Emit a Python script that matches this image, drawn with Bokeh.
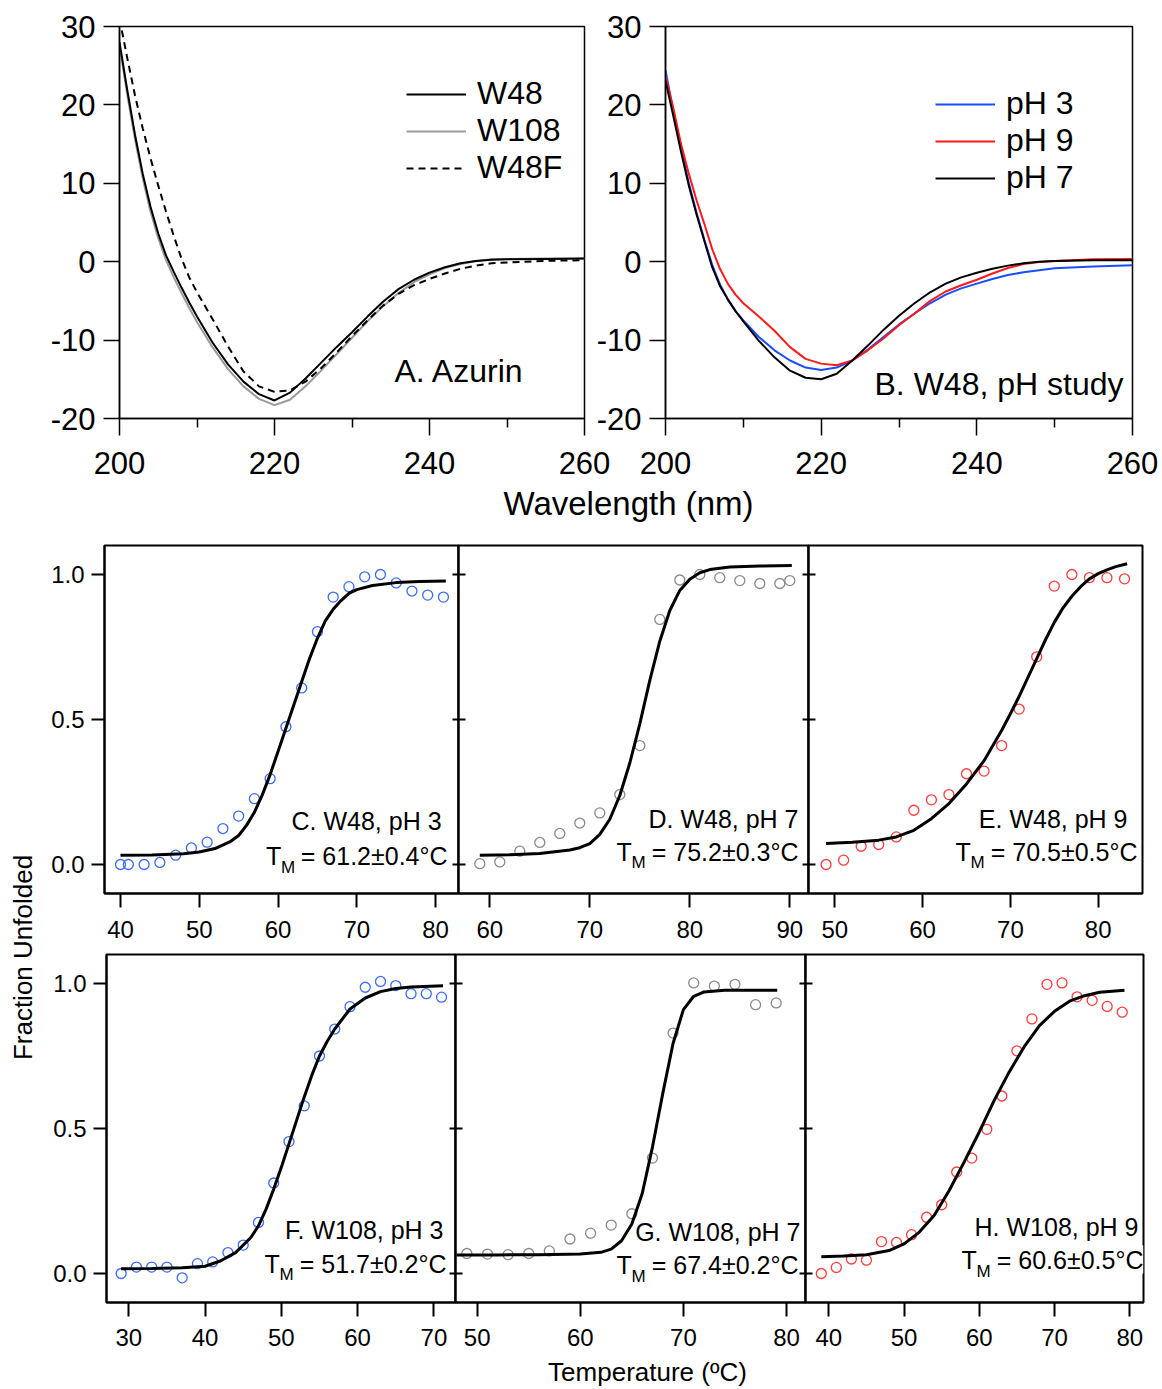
import math
from bokeh.plotting import figure
from bokeh.layouts import row, column
from bokeh.models import (FixedTicker, PrintfTickFormatter, CustomJSTickFormatter,
                          Label, Legend, LegendItem, Range1d)
from bokeh.embed import file_html
from bokeh.resources import INLINE

FONT = "Liberation Sans"

# ---------------- Panels A / B : CD spectra (mdeg) ----------------
wavelength = [200, 201, 202, 203, 204, 205, 206, 207, 208, 209, 210,
              212, 214, 216, 218, 220, 222, 224, 226, 228, 230,
              232, 234, 236, 238, 240, 242, 244, 246, 248, 250, 255, 260]

cd_W48 = [28.0, 21.9, 16.2, 11.2, 7.0, 3.6, 0.8, -1.3, -3.3, -5.2, -7.0,
          -10.3, -13.1, -15.3, -16.9, -17.7, -16.7, -14.9, -12.9, -10.9, -9.0,
          -7.0, -5.1, -3.5, -2.3, -1.4, -0.7, -0.2, 0.1, 0.25, 0.3, 0.35, 0.4]
cd_W108 = [27.6, 21.3, 15.6, 10.6, 6.4, 3.0, 0.2, -2.0, -4.0, -5.9, -7.7,
           -10.9, -13.7, -15.9, -17.5, -18.3, -17.6, -15.9, -13.9, -11.8, -9.7,
           -7.6, -5.7, -4.0, -2.6, -1.6, -0.8, -0.3, 0.1, 0.3, 0.35, 0.4, 0.4]
cd_W48F = [31.0, 26.0, 21.2, 17.0, 13.2, 9.7, 6.4, 3.3, 0.4, -2.0, -3.9,
           -7.3, -10.8, -14.0, -15.9, -16.6, -16.4, -15.3, -13.6, -11.6, -9.5,
           -7.5, -5.6, -4.1, -3.0, -2.2, -1.5, -0.9, -0.5, -0.2, -0.1, 0.1, 0.2]

cd_pH3 = [24.4, 19.3, 14.5, 10.0, 6.2, 2.8, -0.4, -2.9, -4.8, -6.3, -7.5,
          -9.6, -11.3, -12.6, -13.5, -13.8, -13.5, -12.6, -11.2, -9.6, -8.0,
          -6.6, -5.3, -4.2, -3.4, -2.8, -2.2, -1.7, -1.35, -1.1, -0.85, -0.6, -0.45]
cd_pH9 = [23.7, 19.6, 15.0, 11.2, 7.8, 4.8, 1.6, -0.9, -2.8, -4.2, -5.3,
          -7.0, -8.8, -10.9, -12.4, -13.0, -13.2, -12.6, -11.3, -9.8, -8.1,
          -6.6, -5.0, -3.8, -3.0, -2.3, -1.5, -0.8, -0.3, -0.05, 0.1, 0.3, 0.35]
cd_pH7 = [23.1, 18.6, 14.0, 9.7, 6.0, 2.6, -0.7, -3.1, -4.8, -6.3, -7.6,
          -10.1, -12.2, -13.9, -14.8, -15.0, -14.3, -12.6, -10.7, -8.7, -6.9,
          -5.3, -3.9, -2.8, -2.0, -1.4, -0.9, -0.5, -0.2, 0.0, 0.1, 0.2, 0.2]

# ---------------- Panels C-H : thermal unfolding ----------------
C_T = [40, 41, 43, 45, 47, 49, 51, 53, 55, 57, 59, 61, 63, 65, 67, 69, 71, 73, 75, 77, 79, 81]
C_f = [0.0, 0.0, 0.0, 0.007, 0.032, 0.057, 0.077, 0.124, 0.167, 0.227, 0.296, 0.475,
       0.609, 0.803, 0.922, 0.958, 0.992, 1.0, 0.971, 0.943, 0.929, 0.922]
C_fit_T = [40, 44, 48, 50, 52, 54, 55, 56, 57, 58, 59, 60, 61, 62, 63, 64, 65, 66, 67, 68,
           69, 70, 72, 75, 78, 81.3]
C_fit = [0.032, 0.033, 0.037, 0.043, 0.055, 0.08, 0.10, 0.135, 0.18, 0.24, 0.31, 0.39, 0.47,
         0.55, 0.63, 0.71, 0.78, 0.84, 0.88, 0.91, 0.935, 0.948, 0.962, 0.972, 0.976, 0.978]

D_T = [59, 61, 63, 65, 67, 69, 71, 73, 75, 77, 79, 81, 83, 85, 87, 89, 90]
D_f = [0.003, 0.009, 0.046, 0.076, 0.107, 0.143, 0.178, 0.241, 0.41, 0.845, 0.981, 1.0,
       0.989, 0.979, 0.969, 0.969, 0.979]
D_fit_T = [59, 62, 65, 68, 69, 70, 71, 72, 73, 74, 75, 76, 77, 78, 79, 80, 81, 82, 84, 87, 90.2]
D_fit = [0.032, 0.034, 0.038, 0.05, 0.058, 0.072, 0.104, 0.156, 0.238, 0.35, 0.485, 0.635,
         0.77, 0.876, 0.945, 0.984, 1.006, 1.017, 1.026, 1.029, 1.031]

E_T = [49, 51, 53, 55, 57, 59, 61, 63, 65, 67, 69, 71, 73, 75, 77, 79, 81, 83]
E_f = [0.0, 0.015, 0.063, 0.069, 0.095, 0.187, 0.223, 0.241, 0.313, 0.322, 0.41, 0.536,
       0.716, 0.96, 1.0, 0.989, 0.989, 0.985]
E_fit_T = [49, 52, 55, 57, 59, 61, 63, 65, 67, 69, 70, 71, 72, 73, 74, 75, 76, 77, 78, 79,
           80, 81, 82, 83.3]
E_fit = [0.072, 0.077, 0.084, 0.095, 0.118, 0.158, 0.21, 0.278, 0.358, 0.462, 0.52, 0.58,
         0.645, 0.71, 0.775, 0.835, 0.885, 0.925, 0.958, 0.985, 1.003, 1.016, 1.027, 1.037]

F_T = [29, 31, 33, 35, 37, 39, 41, 43, 45, 47, 49, 51, 53, 55, 57, 59, 61, 63, 65, 67, 69, 71]
F_f = [0.0, 0.022, 0.022, 0.022, -0.015, 0.034, 0.04, 0.072, 0.098, 0.176, 0.312, 0.455,
       0.578, 0.75, 0.843, 0.92, 0.987, 1.007, 0.993, 0.965, 0.965, 0.953]
F_fit_T = [29, 33, 37, 40, 42, 44, 46, 47, 48, 49, 50, 51, 52, 53, 54, 55, 56, 57, 59, 61,
           63, 65, 67, 71.2]
F_fit = [0.016, 0.017, 0.02, 0.025, 0.043, 0.072, 0.124, 0.164, 0.222, 0.291, 0.366, 0.447,
         0.528, 0.609, 0.684, 0.75, 0.8, 0.843, 0.912, 0.95, 0.972, 0.983, 0.988, 0.992]

G_T = [49, 51, 53, 55, 57, 59, 61, 63, 65, 67, 69, 71, 73, 75, 77, 79]
G_f = [0.069, 0.067, 0.065, 0.069, 0.078, 0.119, 0.139, 0.167, 0.206, 0.398, 0.829, 1.002,
       0.991, 0.997, 0.927, 0.933]
G_fit_T = [48, 52, 56, 60, 62, 63, 64, 65, 66, 67, 68, 69, 70, 71, 72, 74, 77, 79.1]
G_fit = [0.064, 0.064, 0.065, 0.067, 0.073, 0.084, 0.113, 0.171, 0.275, 0.436, 0.621, 0.794,
         0.91, 0.956, 0.971, 0.977, 0.977, 0.977]

H_T = [39, 41, 43, 45, 47, 49, 51, 53, 55, 57, 59, 61, 63, 65, 67, 69, 71, 73, 75, 77, 79]
H_f = [0.0, 0.021, 0.05, 0.046, 0.11, 0.107, 0.134, 0.194, 0.237, 0.35, 0.398, 0.497, 0.612,
       0.768, 0.878, 0.997, 1.002, 0.954, 0.942, 0.921, 0.901]
H_fit_T = [39, 42, 45, 48, 50, 52, 54, 56, 58, 60, 62, 64, 66, 68, 70, 72, 74, 76, 79.3]
H_fit = [0.058, 0.06, 0.065, 0.079, 0.102, 0.142, 0.2, 0.286, 0.385, 0.488, 0.598, 0.696,
         0.783, 0.855, 0.904, 0.939, 0.958, 0.97, 0.977]

panel_titles = ["C. W48, pH 3", "D. W48, pH 7", "E. W48, pH 9",
                "F. W108, pH 3", "G. W108, pH 7", "H. W108, pH 9"]
tm_values = ["61.2±0.4°C", "75.2±0.3°C", "70.5±0.5°C",
             "51.7±0.2°C", "67.4±0.2°C", "60.6±0.5°C"]

# ---------------- geometry (page pixel coords of frames) ----------------
YR_F = (-0.1, 1.1)
GEO_A = (119, 584, 26, 418, (200, 260), (-20, 30))
GEO_B = (665, 1132, 26, 418, (200, 260), (-20, 30))
GEO_C = (103, 458, 545, 893, (37.97, 82.91), YR_F)
GEO_D = (458, 808, 545, 893, (56.87, 91.87), YR_F)
GEO_E = (808, 1142, 545, 893, (47.0, 85.05), YR_F)
GEO_F = (106, 455, 954, 1302, (27.08, 72.83), YR_F)
GEO_G = (455, 805, 954, 1302, (47.9, 81.84), YR_F)
GEO_H = (805, 1143, 954, 1302, (36.90, 81.83), YR_F)


def px2data(geo, px, py):
    l, r, t, b, xr, yr = geo
    x = xr[0] + (px - l) * (xr[1] - xr[0]) / (r - l)
    y = yr[1] - (py - t) * (yr[1] - yr[0]) / (b - t)
    return x, y


def add_text(p, geo, px, base, text, size, align="left", angle=0.0, bg=None,
             centre=False):
    # base = pixel baseline (or centre if centre=True); drawn with 'middle' baseline
    py = base if centre else base - 0.358 * size
    x, y = px2data(geo, px, py)
    lab = Label(x=x, y=y, text=text, text_font=FONT, text_font_size=f"{size}px",
                text_align=align, text_baseline="middle", angle=angle,
                text_color="black")
    if bg is not None:
        lab.background_fill_color = bg
    p.add_layout(lab)


def make_fig(geo, mbl, mbr, mbt, mbb, margin=None):
    l, r, t, b, xr, yr = geo
    w = mbl + (r - l) + mbr
    h = mbt + (b - t) + mbb
    p = figure(width=w, height=h, x_range=Range1d(*xr), y_range=Range1d(*yr),
               min_border_left=mbl, min_border_right=mbr, min_border_top=mbt,
               min_border_bottom=mbb, toolbar_location=None, output_backend="svg",
               border_fill_color=None, background_fill_color="white",
               outline_line_color="black")
    if margin is not None:
        p.margin = margin
    p.xgrid.visible = False
    p.ygrid.visible = False
    return p


def style_axis(ax, size, lw, tick_out, tick_in, standoff, minor_out=0):
    ax.axis_line_color = "black"
    ax.axis_line_width = lw
    ax.major_tick_line_color = "black"
    ax.major_tick_line_width = lw
    ax.minor_tick_line_color = "black"
    ax.minor_tick_line_width = lw
    ax.major_tick_out = tick_out
    ax.major_tick_in = tick_in
    ax.minor_tick_out = minor_out
    ax.minor_tick_in = 0
    ax.major_label_text_font = FONT
    ax.major_label_text_font_size = f"{size}px"
    ax.major_label_text_color = "black"
    ax.major_label_standoff = standoff


def cd_axes(p):
    p.outline_line_width = 1.5
    xa = p.xaxis[0]
    ya = p.yaxis[0]
    xa.ticker = FixedTicker(ticks=[200, 220, 240, 260], minor_ticks=[210, 230, 250])
    style_axis(xa, 31, 1.5, 17, 0, 16, minor_out=9)
    ya.ticker = FixedTicker(ticks=[-20, -10, 0, 10, 20, 30])
    ya.formatter = PrintfTickFormatter(format="%d")
    style_axis(ya, 31, 1.5, 16, 0, 8)


def cd_legend(p, items, loc):
    leg = Legend(items=items, location=loc, orientation="vertical",
                 border_line_color=None, background_fill_color=None,
                 padding=0, margin=0, spacing=0, glyph_width=60, glyph_height=36,
                 label_height=36, label_standoff=11, label_text_font=FONT,
                 label_text_font_size="32px", label_text_baseline="middle",
                 label_text_color="black")
    p.add_layout(leg)


# ---------------- Panel A ----------------
pA = make_fig(GEO_A, 111, 28, 18, 70)
cd_axes(pA)
rA2 = pA.line(wavelength, cd_W108, line_color="#9a9a9a", line_width=2)
rA3 = pA.line(wavelength, cd_W48F, line_color="black", line_width=2, line_dash="7 5")
rA1 = pA.line(wavelength, cd_W48, line_color="black", line_width=2)
cd_legend(pA, [LegendItem(label="W48", renderers=[rA1]),
               LegendItem(label="W108", renderers=[rA2]),
               LegendItem(label="W48F", renderers=[rA3])], (287, 232))
add_text(pA, GEO_A, 394, 370, "A. Azurin", 32, centre=True)
add_text(pA, GEO_A, 27, 229, "CD (mdeg)", 33, align="center", angle=math.pi / 2,
         centre=True)

# ---------------- Panel B ----------------
pB = make_fig(GEO_B, 81, 26, 18, 70, margin=(0, 0, 0, -28))
cd_axes(pB)
rB1 = pB.line(wavelength, cd_pH3, line_color="#1a4dff", line_width=2)
rB2 = pB.line(wavelength, cd_pH9, line_color="#ff1a1a", line_width=2)
rB3 = pB.line(wavelength, cd_pH7, line_color="black", line_width=2)
cd_legend(pB, [LegendItem(label="pH 3", renderers=[rB1]),
               LegendItem(label="pH 9", renderers=[rB2]),
               LegendItem(label="pH 7", renderers=[rB3])], (270, 222))
add_text(pB, GEO_B, 1123, 383, "B. W48, pH study", 32, align="right", centre=True)


# ---------------- thermal panels ----------------
def thermal(geo, mbl, mbr, mbt, mbb, margin, T, f, fT, ff, color, xticks, first,
            title, tm, l1, tmpos, xstand):
    p = make_fig(geo, mbl, mbr, mbt, mbb, margin)
    p.outline_line_width = 2
    p.scatter(T, f, marker="circle", size=10, fill_color=None, line_color=color,
              line_width=1.3)
    p.line(fT, ff, line_color="black", line_width=3)
    xa = p.xaxis[0]
    ya = p.yaxis[0]
    xa.ticker = FixedTicker(ticks=xticks)
    style_axis(xa, 24, 2, 14, 0, xstand)
    ya.ticker = FixedTicker(ticks=[0.0, 0.5, 1.0])
    if first:
        ya.formatter = PrintfTickFormatter(format="%.1f")
        style_axis(ya, 24, 2, 13, 0, 7)
    else:
        ya.formatter = CustomJSTickFormatter(code="return ''")
        style_axis(ya, 24, 2, 6, 7, 0)
    add_text(p, geo, l1[0], l1[1], title, 25, align="right")
    R, bl, mb = tmpos
    add_text(p, geo, R, bl, "= " + tm, 25, align="right", bg="white")
    add_text(p, geo, R - 182, bl, "T", 25, align="left")
    add_text(p, geo, R - 167, mb, "M", 17, align="left")
    return p


BLUE = "#3b6cf6"
GRAY = "#8a8a8a"
RED = "#ff3b3b"

pC = thermal(GEO_C, 55, 2, 17, 54, None, C_T, C_f, C_fit_T, C_fit, BLUE,
             [40, 50, 60, 70, 80], True, panel_titles[0], tm_values[0],
             (441, 829), (447, 864, 873), 13)
pD = thermal(GEO_D, 12, 2, 17, 54, (0, 0, 0, -14), D_T, D_f, D_fit_T, D_fit, GRAY,
             [60, 70, 80, 90], False, panel_titles[1], tm_values[1],
             (798, 827), (798, 860, 868), 13)
pE = thermal(GEO_E, 12, 8, 17, 54, (0, 0, 0, -14), E_T, E_f, E_fit_T, E_fit, RED,
             [50, 60, 70, 80], False, panel_titles[2], tm_values[2],
             (1127, 827), (1137, 860, 868), 13)
pF = thermal(GEO_F, 58, 2, 7, 56, None, F_T, F_f, F_fit_T, F_fit, BLUE,
             [30, 40, 50, 60, 70], True, panel_titles[3], tm_values[3],
             (443, 1238), (446, 1272, 1280), 12)
pG = thermal(GEO_G, 12, 2, 7, 56, (0, 0, 0, -14), G_T, G_f, G_fit_T, G_fit, GRAY,
             [50, 60, 70, 80], False, panel_titles[4], tm_values[4],
             (800, 1240), (798, 1273, 1282), 12)
pH = thermal(GEO_H, 12, 8, 7, 56, (0, 0, 0, -14), H_T, H_f, H_fit_T, H_fit, RED,
             [40, 50, 60, 70, 80], False, panel_titles[5], tm_values[5],
             (1138, 1235), (1143, 1268, 1277), 12)


def blank_fig(w, h, margin=None):
    p = figure(width=w, height=h, x_range=Range1d(0, w), y_range=Range1d(0, h),
               min_border=0, toolbar_location=None, output_backend="svg",
               x_axis_location=None, y_axis_location=None, outline_line_color=None,
               border_fill_color=None, background_fill_color=None)
    if margin is not None:
        p.margin = margin
    p.xgrid.visible = False
    p.ygrid.visible = False
    return p


# ---------------- shared axis titles ----------------
# x title of the CD panels: canvas spans page y 478..528, x 8..1158
pX = blank_fig(1150, 50, margin=(-10, 0, 0, 0))
pX.add_layout(Label(x=628 - 8, y=50 - (503 - 478), text="Wavelength (nm)",
                    text_font=FONT, text_font_size="33px", text_align="center",
                    text_baseline="middle", text_color="black"))

# y title of the unfolding panels: canvas spans page y 528..1358, x 8..48
pY = blank_fig(40, 830)
pY.add_layout(Label(x=22 - 8, y=830 - (957 - 528), text="Fraction Unfolded",
                    text_font=FONT, text_font_size="26px", text_align="center",
                    text_baseline="middle", angle=math.pi / 2, text_color="black"))

# x title of the unfolding panels: canvas spans page y 1354..1386, x 8..1158
pT = blank_fig(1150, 32, margin=(-4, 0, 0, 0))
pT.add_layout(Label(x=647 - 8, y=32 - (1371 - 1354), text="Temperature (ºC)",
                    text_font=FONT, text_font_size="26px", text_align="center",
                    text_baseline="middle", text_color="black"))

layout = column(row(pA, pB), pX,
                row(pY, column(row(pC, pD, pE), row(pF, pG, pH))),
                pT,
                margin=(8, 0, 0, 8))

with open("out.html", "w") as fh:
    fh.write(file_html(layout, INLINE))
